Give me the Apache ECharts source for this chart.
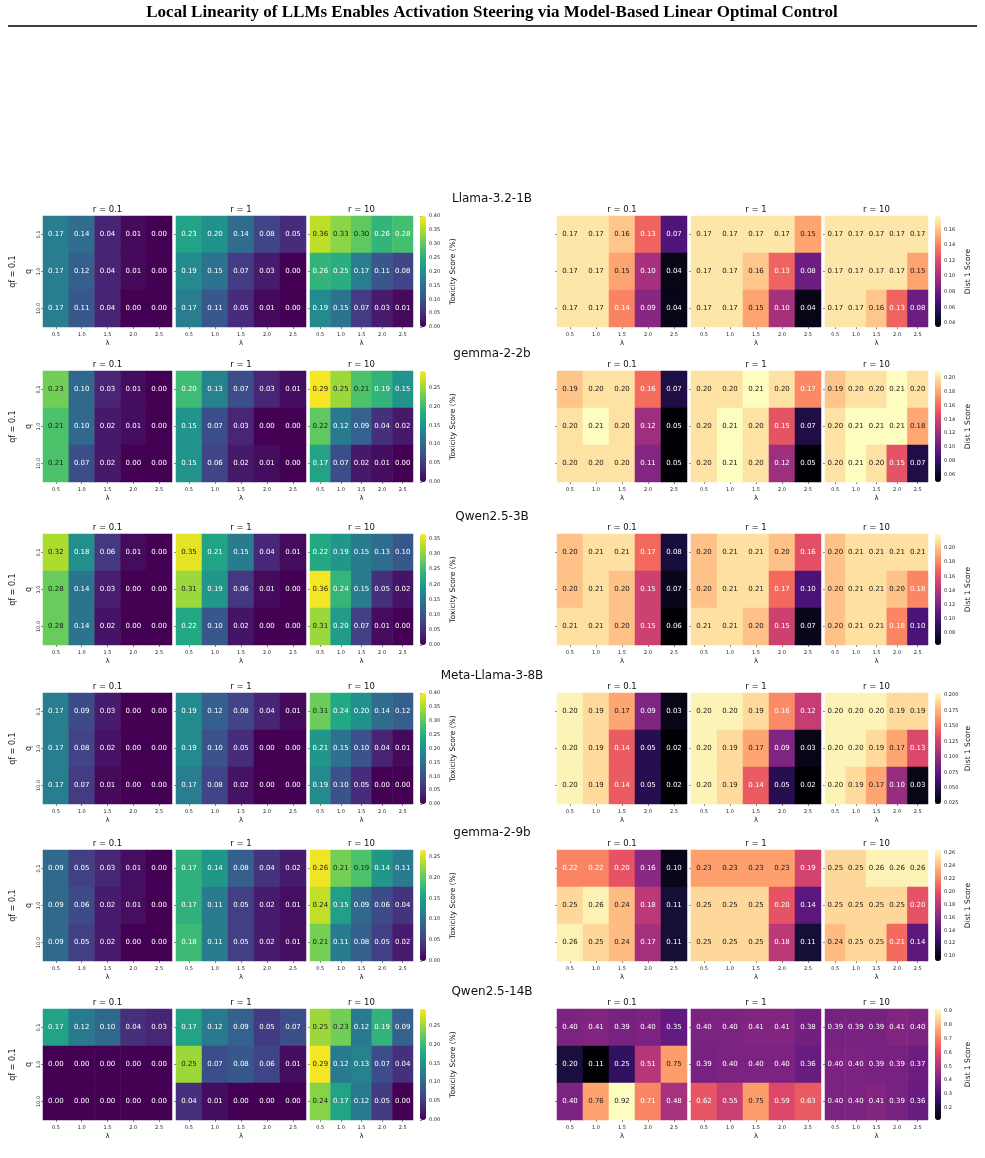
<!DOCTYPE html>
<html><head><meta charset="utf-8">
<script src="https://cdn.jsdelivr.net/npm/echarts@6/dist/echarts.min.js"></script>
<style>html,body{margin:0;padding:0;background:#fff}#c{width:985px;height:1158px}</style>
</head><body><div id="c"></div>
<script>
const mainTitle = "Local Linearity of LLMs Enables Activation Steering via Model-Based Linear Optimal Control";
const models = ["Llama-3.2-1B", "gemma-2-2b", "Qwen2.5-3B", "Meta-Llama-3-8B", "gemma-2-9b", "Qwen2.5-14B"];
const rLabels = ["r = 0.1", "r = 1", "r = 10"];
const lambdas = ["0.5", "1.0", "1.5", "2.0", "2.5"];
const qValues = ["0.1", "1.0", "10.0"];

// Toxicity score: [r=0.1, r=1, r=10], each rows q=0.1,1.0,10.0 x cols lambda
const toxLlama1B = [
  [[0.17,0.14,0.04,0.01,0.00],[0.17,0.12,0.04,0.01,0.00],[0.17,0.11,0.04,0.00,0.00]],
  [[0.23,0.20,0.14,0.08,0.05],[0.19,0.15,0.07,0.03,0.00],[0.17,0.11,0.05,0.01,0.00]],
  [[0.36,0.33,0.30,0.26,0.28],[0.26,0.25,0.17,0.11,0.08],[0.19,0.15,0.07,0.03,0.01]]
];
const toxGemma2B = [
  [[0.23,0.10,0.03,0.01,0.00],[0.21,0.10,0.02,0.01,0.00],[0.21,0.07,0.02,0.00,0.00]],
  [[0.20,0.13,0.07,0.03,0.01],[0.15,0.07,0.03,0.00,0.00],[0.15,0.06,0.02,0.01,0.00]],
  [[0.29,0.25,0.21,0.19,0.15],[0.22,0.12,0.09,0.04,0.02],[0.17,0.07,0.02,0.01,0.00]]
];
const toxQwen3B = [
  [[0.32,0.18,0.06,0.01,0.00],[0.28,0.14,0.03,0.00,0.00],[0.28,0.14,0.02,0.00,0.00]],
  [[0.35,0.21,0.15,0.04,0.01],[0.31,0.19,0.06,0.01,0.00],[0.22,0.10,0.02,0.00,0.00]],
  [[0.22,0.19,0.15,0.13,0.10],[0.36,0.24,0.15,0.05,0.02],[0.31,0.20,0.07,0.01,0.00]]
];
const toxLlama8B = [
  [[0.17,0.09,0.03,0.00,0.00],[0.17,0.08,0.02,0.00,0.00],[0.17,0.07,0.01,0.00,0.00]],
  [[0.19,0.12,0.08,0.04,0.01],[0.19,0.10,0.05,0.00,0.00],[0.17,0.08,0.02,0.00,0.00]],
  [[0.31,0.24,0.20,0.14,0.12],[0.21,0.15,0.10,0.04,0.01],[0.19,0.10,0.05,0.00,0.00]]
];
const toxGemma9B = [
  [[0.09,0.05,0.03,0.01,0.00],[0.09,0.06,0.02,0.01,0.00],[0.09,0.05,0.02,0.00,0.00]],
  [[0.17,0.14,0.08,0.04,0.02],[0.17,0.11,0.05,0.02,0.01],[0.18,0.11,0.05,0.02,0.01]],
  [[0.26,0.21,0.19,0.14,0.11],[0.24,0.15,0.09,0.06,0.04],[0.21,0.11,0.08,0.05,0.02]]
];
const toxQwen14B = [
  [[0.17,0.12,0.10,0.04,0.03],[0.00,0.00,0.00,0.00,0.00],[0.00,0.00,0.00,0.00,0.00]],
  [[0.17,0.12,0.09,0.05,0.07],[0.25,0.07,0.08,0.06,0.01],[0.04,0.01,0.00,0.00,0.00]],
  [[0.25,0.23,0.12,0.19,0.09],[0.29,0.12,0.13,0.07,0.04],[0.24,0.17,0.12,0.05,0.00]]
];

// Dist 1 score
const distLlama1B = [
  [[0.17,0.17,0.16,0.13,0.07],[0.17,0.17,0.15,0.10,0.04],[0.17,0.17,0.14,0.09,0.04]],
  [[0.17,0.17,0.17,0.17,0.15],[0.17,0.17,0.16,0.13,0.08],[0.17,0.17,0.15,0.10,0.04]],
  [[0.17,0.17,0.17,0.17,0.17],[0.17,0.17,0.17,0.17,0.15],[0.17,0.17,0.16,0.13,0.08]]
];
const distGemma2B = [
  [[0.19,0.20,0.20,0.16,0.07],[0.20,0.21,0.20,0.12,0.05],[0.20,0.20,0.20,0.11,0.05]],
  [[0.20,0.20,0.21,0.20,0.17],[0.20,0.21,0.20,0.15,0.07],[0.20,0.21,0.20,0.12,0.05]],
  [[0.19,0.20,0.20,0.21,0.20],[0.20,0.21,0.21,0.21,0.18],[0.20,0.21,0.20,0.15,0.07]]
];
const distQwen3B = [
  [[0.20,0.21,0.21,0.17,0.08],[0.20,0.21,0.20,0.15,0.07],[0.21,0.21,0.20,0.15,0.06]],
  [[0.20,0.21,0.21,0.20,0.16],[0.20,0.21,0.21,0.17,0.10],[0.21,0.21,0.20,0.15,0.07]],
  [[0.20,0.21,0.21,0.21,0.21],[0.20,0.21,0.21,0.20,0.18],[0.20,0.21,0.21,0.18,0.10]]
];
const distLlama8B = [
  [[0.20,0.19,0.17,0.09,0.03],[0.20,0.19,0.14,0.05,0.02],[0.20,0.19,0.14,0.05,0.02]],
  [[0.20,0.20,0.19,0.16,0.12],[0.20,0.19,0.17,0.09,0.03],[0.20,0.19,0.14,0.05,0.02]],
  [[0.20,0.20,0.20,0.19,0.19],[0.20,0.20,0.19,0.17,0.13],[0.20,0.19,0.17,0.10,0.03]]
];
const distGemma9B = [
  [[0.22,0.22,0.20,0.16,0.10],[0.25,0.26,0.24,0.18,0.11],[0.26,0.25,0.24,0.17,0.11]],
  [[0.23,0.23,0.23,0.23,0.19],[0.25,0.25,0.25,0.20,0.14],[0.25,0.25,0.25,0.18,0.11]],
  [[0.25,0.25,0.26,0.26,0.26],[0.25,0.25,0.25,0.25,0.20],[0.24,0.25,0.25,0.21,0.14]]
];
const distQwen14B = [
  [[0.40,0.41,0.39,0.40,0.35],[0.20,0.11,0.25,0.51,0.75],[0.40,0.76,0.92,0.71,0.48]],
  [[0.40,0.40,0.41,0.41,0.38],[0.39,0.40,0.40,0.40,0.36],[0.62,0.55,0.75,0.59,0.63]],
  [[0.39,0.39,0.39,0.41,0.40],[0.40,0.40,0.39,0.39,0.37],[0.40,0.40,0.41,0.39,0.36]]
];

// colour scale ranges
const toxRanges = [[0, 0.40], [0, 0.2935], [0, 0.3655], [0, 0.40], [0, 0.2655], [0, 0.2935]];
const distRanges = [[0.035, 0.177], [0.0495, 0.2095], [0.0625, 0.220], [0.0235, 0.2035], [0.0925, 0.264], [0.11, 0.915]];

// colorbar tick labels
const toxTicks = [
  [0, 0.05, 0.10, 0.15, 0.20, 0.25, 0.30, 0.35, 0.40],
  [0, 0.05, 0.10, 0.15, 0.20, 0.25],
  [0, 0.05, 0.10, 0.15, 0.20, 0.25, 0.30, 0.35],
  [0, 0.05, 0.10, 0.15, 0.20, 0.25, 0.30, 0.35, 0.40],
  [0, 0.05, 0.10, 0.15, 0.20, 0.25],
  [0, 0.05, 0.10, 0.15, 0.20, 0.25]
];
const distTicks = [
  [0.04, 0.06, 0.08, 0.10, 0.12, 0.14, 0.16],
  [0.06, 0.08, 0.10, 0.12, 0.14, 0.16, 0.18, 0.20],
  [0.08, 0.10, 0.12, 0.14, 0.16, 0.18, 0.20],
  [0.025, 0.050, 0.075, 0.100, 0.125, 0.150, 0.175, 0.200],
  [0.10, 0.12, 0.14, 0.16, 0.18, 0.20, 0.22, 0.24, 0.26],
  [0.2, 0.3, 0.4, 0.5, 0.6, 0.7, 0.8, 0.9]
];
const toxDecimals = [2, 2, 2, 2, 2, 2];
const distDecimals = [2, 2, 2, 3, 2, 1];

const toxData = [toxLlama1B, toxGemma2B, toxQwen3B, toxLlama8B, toxGemma9B, toxQwen14B];
const distData = [distLlama1B, distGemma2B, distQwen3B, distLlama8B, distGemma9B, distQwen14B];

const viridis = ['#440154','#482475','#414487','#355f8d','#2a788e','#21918c','#22a884','#44bf70','#7ad151','#bddf26','#fde725'];
const magma = ['#000004','#140e36','#3b0f70','#641a80','#8c2981','#b73779','#de4968','#f7705c','#fe9f6d','#fecf92','#fcfdbf'];

function hexToRgb(h){return [parseInt(h.slice(1,3),16),parseInt(h.slice(3,5),16),parseInt(h.slice(5,7),16)];}
function colorAt(stops,t){
  t=Math.max(0,Math.min(1,t));
  const p=t*(stops.length-1);
  const i=Math.min(Math.floor(p),stops.length-2);
  const f=p-i;
  const a=hexToRgb(stops[i]), b=hexToRgb(stops[i+1]);
  return a.map((v,k)=>v+(b[k]-v)*f);
}
function lum(rgb){
  const c=rgb.map(v=>{v/=255;return v<=0.03928?v/12.92:Math.pow((v+0.055)/1.055,2.4);});
  return 0.2126*c[0]+0.7152*c[1]+0.0722*c[2];
}

// layout
const FONT = 'DejaVu Sans';
const rowTops = [216, 371, 534, 693, 850, 1009];
const cellH = 111;
const groups = [
  {hm: [[43,129],[176,130],[310,103]], cb: 420, cbLabel: 453, name: 'Toxicity Score (%)'},
  {hm: [[557,130],[691,130],[825,103]], cb: 935, cbLabel: 968, name: 'Dist 1 Score'}
];

const grid=[], xAxis=[], yAxis=[], series=[], visualMap=[];
const graphic=[
  {type:'text', x:492, y:13, style:{text:mainTitle, fontFamily:'Liberation Serif', fontWeight:'bold', fontSize:17, fill:'#000', align:'center', verticalAlign:'middle', textAlign:'center', textVerticalAlign:'middle'}},
  {type:'line', shape:{x1:8, y1:26, x2:977, y2:26}, style:{stroke:'#000', lineWidth:1.6}}
];

function txt(x,y,text,size,rot){
  return {type:'text', x, y, rotation: rot||0, style:{text, fontFamily:FONT, fontSize:size, fill:'#111', align:'center', verticalAlign:'middle', textAlign:'center', textVerticalAlign:'middle'}};
}

models.forEach((m, mi) => {
  const top = rowTops[mi];
  graphic.push(txt(492, top-17, m, 12));
  graphic.push(txt(13, top+cellH/2, 'qf = 0.1', 8, Math.PI/2));
  groups.forEach((g, gi) => {
    const mats = gi===0 ? toxData[mi] : distData[mi];
    const range = gi===0 ? toxRanges[mi] : distRanges[mi];
    const cmap = gi===0 ? viridis : magma;
    const ticks = gi===0 ? toxTicks[mi] : distTicks[mi];
    const dec = gi===0 ? toxDecimals[mi] : distDecimals[mi];
    const sIdx = [];
    g.hm.forEach(([left, width], ri) => {
      const gIdx = grid.length;
      const first = gi===0 && ri===0;
      grid.push({left, top, width, height:cellH, containLabel:false});
      xAxis.push({type:'category', gridIndex:gIdx, data:lambdas, position:'bottom',
        axisLine:{show:false}, splitLine:{show:false},
        axisTick:{show:true, length:2, alignWithLabel:true, lineStyle:{color:'#333', width:0.6}},
        axisLabel:{fontSize:5, margin:5, color:'#222', fontFamily:FONT},
        name:'λ', nameLocation:'middle', nameGap:13, nameTextStyle:{fontSize:7, color:'#222', fontFamily:FONT}});
      yAxis.push({type:'category', gridIndex:gIdx, data:qValues, inverse:true,
        axisLine:{show:false}, splitLine:{show:false},
        axisTick:{show:true, length:2, alignWithLabel:true, lineStyle:{color:'#333', width:0.6}},
        axisLabel:{show:first, rotate:90, fontSize:5, margin:2, color:'#222', fontFamily:FONT},
        name: first ? 'q' : '', nameLocation:'middle', nameGap:10, nameRotate:90,
        nameTextStyle:{fontSize:8, color:'#222', fontFamily:FONT}});
      const data=[];
      mats[ri].forEach((row, yi) => row.forEach((v, xi) => {
        const c = colorAt(cmap, (v-range[0])/(range[1]-range[0]));
        data.push({value:[xi, yi, v], label:{color: lum(c) > 0.408 ? '#1a1a1a' : '#ffffff'}});
      }));
      sIdx.push(series.length);
      series.push({type:'heatmap', xAxisIndex:gIdx, yAxisIndex:gIdx, data,
        label:{show:true, fontSize:7, fontFamily:FONT, formatter: p => p.value[2].toFixed(2)},
        itemStyle:{borderWidth:0}, emphasis:{disabled:true}, progressive:0, animation:false});
      graphic.push(txt(left+width/2, top-6, rLabels[ri], 8.5));
    });
    visualMap.push({type:'continuous', min:range[0], max:range[1], seriesIndex:sIdx,
      inRange:{color:cmap}, orient:'vertical', left:g.cb, top, itemWidth:6, itemHeight:cellH,
      padding:0, calculable:false, hoverLink:false, realtime:false, showLabel:false});
    const cIdx = grid.length;
    grid.push({left:g.cb, top, width:6, height:cellH});
    xAxis.push({type:'value', gridIndex:cIdx, show:false, min:0, max:1});
    yAxis.push({type:'value', gridIndex:cIdx, position:'right', min:range[0], max:range[1],
      axisLine:{show:false}, splitLine:{show:false},
      axisTick:{show:true, length:2, customValues:ticks, lineStyle:{color:'#333', width:0.6}},
      axisLabel:{fontSize:5, margin:3, color:'#222', fontFamily:FONT, customValues:ticks, formatter: v => v.toFixed(dec)}});
    graphic.push(txt(g.cbLabel, top+cellH/2, g.name, 7.5, Math.PI/2));
  });
});

const chart = echarts.init(document.getElementById('c'), null, {renderer:'canvas'});
chart.setOption({backgroundColor:'#fff', animation:false, grid, xAxis, yAxis, series, visualMap, graphic});
</script></body></html>
